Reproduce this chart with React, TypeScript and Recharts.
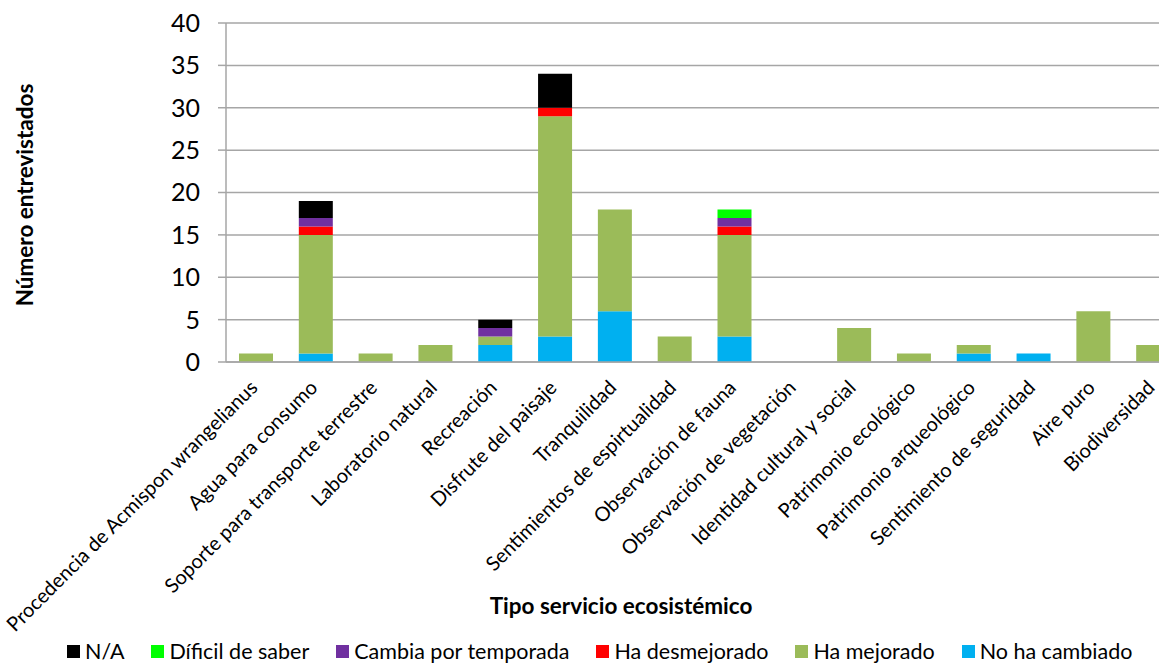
import { BarChart, Bar, XAxis, YAxis, CartesianGrid, Legend, Label } from 'recharts';

const categories = [
  'Procedencia de Acmispon wrangelianus',
  'Agua para consumo',
  'Soporte para transporte terrestre',
  'Laboratorio natural',
  'Recreación',
  'Disfrute del paisaje',
  'Tranquilidad',
  'Sentimientos de espirtualidad',
  'Observación de fauna',
  'Observación de vegetación',
  'Identidad cultural y social',
  'Patrimonio ecológico',
  'Patrimonio arqueológico',
  'Sentimiento de seguridad',
  'Aire puro',
  'Biodiversidad',
];

const noHaCambiado = [0, 1, 0, 0, 2, 3, 6, 0, 3, 0, 0, 0, 1, 1, 0, 0];
const haMejorado = [1, 14, 1, 2, 1, 26, 12, 3, 12, 0, 4, 1, 1, 0, 6, 2];
const haDesmejorado = [0, 1, 0, 0, 0, 1, 0, 0, 1, 0, 0, 0, 0, 0, 0, 0];
const cambiaPorTemporada = [0, 1, 0, 0, 1, 0, 0, 0, 1, 0, 0, 0, 0, 0, 0, 0];
const dificilDeSaber = [0, 0, 0, 0, 0, 0, 0, 0, 1, 0, 0, 0, 0, 0, 0, 0];
const na = [0, 2, 0, 0, 1, 4, 0, 0, 0, 0, 0, 0, 0, 0, 0, 0];

const yTicks = [0, 5, 10, 15, 20, 25, 30, 35, 40];

// bottom to top in the stack
const series = [
  { key: 'noHaCambiado', name: 'No ha cambiado', color: '#00b0f0', values: noHaCambiado },
  { key: 'haMejorado', name: 'Ha mejorado', color: '#9bbb59', values: haMejorado },
  { key: 'haDesmejorado', name: 'Ha desmejorado', color: '#ff0000', values: haDesmejorado },
  { key: 'cambiaPorTemporada', name: 'Cambia por temporada', color: '#7030a0', values: cambiaPorTemporada },
  { key: 'dificilDeSaber', name: 'Díficil de saber', color: '#00ff00', values: dificilDeSaber },
  { key: 'na', name: 'N/A', color: '#000000', values: na },
];

const data = categories.map((name, i) => {
  const row: Record<string, string | number> = { name };
  series.forEach((s) => { row[s.key] = s.values[i]; });
  return row;
});

const FONT = 'Lato, "Liberation Sans", sans-serif';

function AngledTick({ x, y, payload }: any) {
  return (
    <g transform={`translate(${x - 2},${y + 20}) rotate(-45)`}>
      <text x={0} y={0} dy="0.35em" textAnchor="end" fontSize={20} fontFamily={FONT} fill="#000">
        {payload.value}
      </text>
    </g>
  );
}

function LegendRow() {
  const items = [...series].reverse();
  return (
    <div style={{ display: 'flex', gap: 27, fontFamily: FONT, fontSize: 21.5, lineHeight: '24px', color: '#000', whiteSpace: 'nowrap' }}>
      {items.map((s) => (
        <div key={s.key} style={{ display: 'flex', alignItems: 'center' }}>
          <span style={{ width: 13, height: 13, background: s.color, display: 'inline-block', marginRight: 5 }} />
          <span>{s.name}</span>
        </div>
      ))}
    </div>
  );
}

export default function App() {
  return (
    <div style={{ position: 'fixed', left: 0, top: 0, width: 1159, height: 664, overflow: 'hidden', background: '#fff' }}>
      <BarChart width={1190} height={664} data={data} margin={{ top: 23, right: 7, left: 0, bottom: 0 }} barSize={34}>
        <CartesianGrid vertical={false} stroke="#a6a6a6" strokeWidth={1.5} />
        <XAxis
          dataKey="name"
          interval={0}
          tick={<AngledTick />}
          tickLine={false}
          tickSize={0}
          axisLine={{ stroke: '#a6a6a6', strokeWidth: 1.5 }}
          height={262}
        >
          <Label
            content={() => (
              <text x={621} y={614} textAnchor="middle" fontSize={22.5} fontWeight="bold" fontFamily={FONT} fill="#000">
                Tipo servicio ecosistémico
              </text>
            )}
          />
        </XAxis>
        <YAxis
          domain={[0, 40]}
          ticks={yTicks}
          width={226}
          tickSize={8}
          tickMargin={18}
          tickLine={{ stroke: '#a6a6a6', strokeWidth: 1.5 }}
          axisLine={{ stroke: '#a6a6a6', strokeWidth: 1.5 }}
          tick={{ fontSize: 25, fill: '#000', fontFamily: FONT }}
        >
          <Label
            content={() => (
              <text x={0} y={0} transform="translate(33,195) rotate(-90)" textAnchor="middle" fontSize={22.5} fontWeight="bold" fontFamily={FONT} fill="#000">
                Número entrevistados
              </text>
            )}
          />
        </YAxis>
        <Legend
          verticalAlign="bottom"
          height={40}
          content={() => <LegendRow />}
          wrapperStyle={{ left: 67, width: 1090, top: 639, bottom: 'auto', paddingTop: 0 }}
        />
        {series.map((s) => (
          <Bar key={s.key} dataKey={s.key} name={s.name} stackId="a" fill={s.color} isAnimationActive={false} />
        ))}
      </BarChart>
    </div>
  );
}
